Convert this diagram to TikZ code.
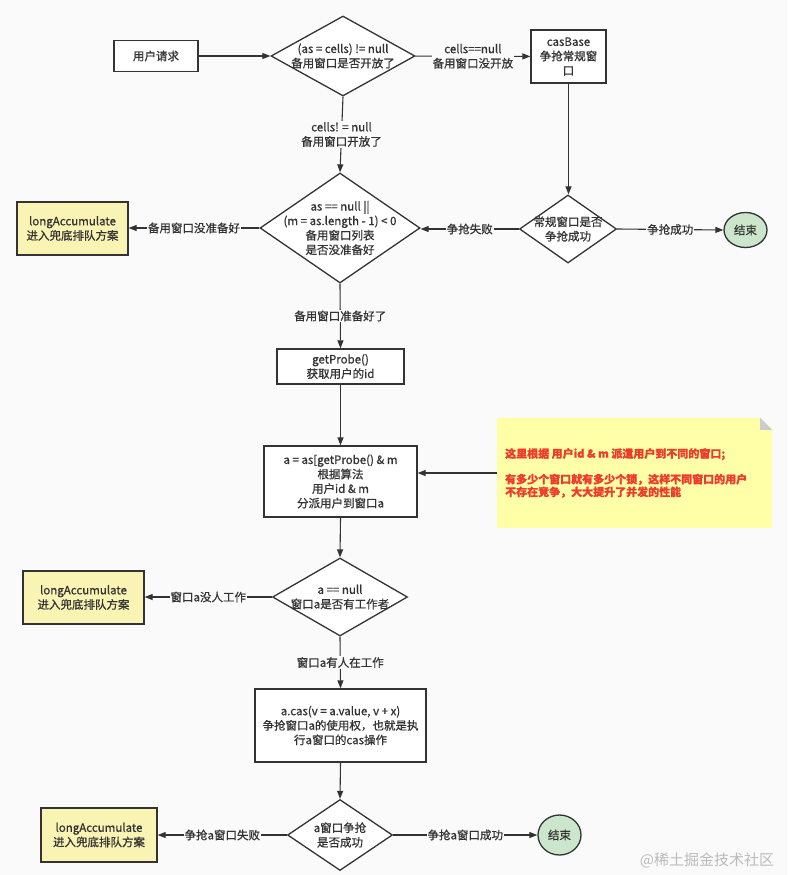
\documentclass[tikz,border=0pt]{standalone}
\usepackage{fontspec}
\setmainfont{Noto Sans CJK SC}[FakeBold=0.8]
\newfontfamily\wmfont{Noto Sans CJK SC}
\usetikzlibrary{shapes.geometric,arrows.meta}
\definecolor{bg}{HTML}{FAFAFA}
\definecolor{lc}{HTML}{333333}
\definecolor{laY}{HTML}{FAF4B4}
\definecolor{endG}{HTML}{CCE6CC}
\definecolor{noteY}{HTML}{FFFFA8}
\definecolor{noteR}{HTML}{EE3B2B}
\definecolor{wm}{HTML}{BBBBBB}
\newcommand{\nf}{\fontsize{11.5}{14.5}\selectfont}
\begin{document}
\begin{tikzpicture}[x=1pt,y=-1pt,
  every node/.style={font=\nf, text=lc},
  box/.style={draw=lc, line width=1.3pt, fill=white, align=center, inner sep=1pt},
  labox/.style={box, fill=laY},
  dia/.style={diamond, draw=lc, line width=1.3pt, fill=white, inner sep=0pt},
  endnode/.style={ellipse, draw=lc, line width=1.3pt, fill=endG, inner sep=0pt},
  conn/.style={draw=lc, line width=1.1pt, -{Triangle[length=8pt,width=6pt]}},
  elab/.style={fill=bg, inner sep=1pt, align=center}]
\fill[bg] (0,0) rectangle (787,875);
\useasboundingbox (0,0) rectangle (787,875);

% nodes
\node[box, minimum width=84pt, minimum height=31pt] (req) at (156,56) {用户请求};
\node[dia, minimum width=144pt, minimum height=80pt,
  label={[align=center]center:{(as = cells) != null\\备用窗口是否开放了}}] (d1) at (343,56) {};
\node[box, minimum width=75pt, minimum height=53pt] (cb) at (568.5,56.5) {casBase\\争抢常规窗\\口};
\node[dia, minimum width=160pt, minimum height=110pt,
  label={[align=center]center:{as == null ||\\(m = as.length - 1) < 0\\备用窗口列表\\是否没准备好}}] (d2) at (340,228) {};
\node[labox, minimum width=111pt, minimum height=53pt] (la1) at (72.5,228.5) {longAccumulate\\进入兜底排队方案};
\node[dia, minimum width=97pt, minimum height=68pt,
  label={[align=center]center:{常规窗口是否\\争抢成功}}] (d3) at (568,229) {};
\node[endnode, minimum width=43pt, minimum height=35pt] (e1) at (745.5,230) {结束};
\node[box, minimum width=127pt, minimum height=35pt] (gp) at (340.5,366.5) {getProbe()\\获取用户的id};
\node[box, minimum width=153pt, minimum height=71pt] (asg) at (340.5,481.5) {a = as[getProbe() \& m\\根据算法\\用户id \& m\\分派用户到窗口a};
\node[inner sep=0pt, minimum width=275pt, minimum height=110pt] (note) at (634.5,473) {};
\fill[noteY] (note.north west) -- ([xshift=-12pt]note.north east) -- ([yshift=-12pt]note.north east) -- (note.south east) -- (note.south west) -- cycle;
\fill[lightgray!80] ([xshift=-12pt]note.north east) -- ([xshift=-12pt,yshift=-12pt]note.north east) -- ([yshift=-12pt]note.north east) -- cycle;
\node[anchor=west, align=left, text=noteR, font=\fontsize{11}{12.8}\selectfont\bfseries, inner sep=0pt] (notetext) at (505,473)
  {这里根据 用户id \& m 派遣用户到不同的窗口;\\[12.8pt]有多少个窗口就有多少个锁，这样不同窗口的用户\\不存在竞争，大大提升了并发的性能};
\node[dia, minimum width=135pt, minimum height=78pt,
  label={[align=center]center:{a == null\\窗口a是否有工作者}}] (d4) at (340,597) {};
\node[labox, minimum width=121pt, minimum height=53pt] (la2) at (83.5,597.5) {longAccumulate\\进入兜底排队方案};
\node[box, minimum width=171pt, minimum height=73pt] (cas) at (340.5,725.5) {a.cas(v = a.value, v + x)\\争抢窗口a的使用权，也就是执\\行a窗口的cas操作};
\node[dia, minimum width=105pt, minimum height=71pt,
  label={[align=center]center:{a窗口争抢\\是否成功}}] (d5) at (340,835) {};
\node[labox, minimum width=116pt, minimum height=54pt] (la3) at (99,835) {longAccumulate\\进入兜底排队方案};
\node[endnode, minimum width=43pt, minimum height=40pt] (e2) at (559.5,835) {结束};
\node[text=wm, font=\wmfont\fontsize{15}{18}\selectfont] (wmark) at (707,860) {@稀土掘金技术社区};

% connectors
\draw[conn] (req) -- (d1);
\draw[conn] (d1) -- node[elab]{cells==null\\备用窗口没开放} (cb);
\draw[conn] (d1.south) -- node[elab]{cells! = null\\备用窗口开放了} (d2.north);
\draw[conn] (cb.south) -- (cb.south |- d3.north);
\draw[conn] (d3.west) -- node[elab]{争抢失败} (d3.west -| d2.east);
\draw[conn] (d3.east) -- node[elab]{争抢成功} (e1.west);
\draw[conn] (d2.west) -- node[elab]{备用窗口没准备好} (d2.west -| la1.east);
\draw[conn] (d2.south) -- node[elab]{备用窗口准备好了} (gp.north);
\draw[conn] (gp.south) -- (asg.north);
\draw[conn] (note.west) -- (note.west -| asg.east);
\draw[conn] (asg.south) -- (d4.north);
\draw[conn] (d4.west) -- node[elab]{窗口a没人工作} (d4.west -| la2.east);
\draw[conn] (d4.south) -- node[elab]{窗口a有人在工作} (cas.north);
\draw[conn] (cas.south) -- (d5.north);
\draw[conn] (d5.west) -- node[elab]{争抢a窗口失败} (la3.east);
\draw[conn] (d5.east) -- node[elab]{争抢a窗口成功} (e2.west);
\end{tikzpicture}
\end{document}
